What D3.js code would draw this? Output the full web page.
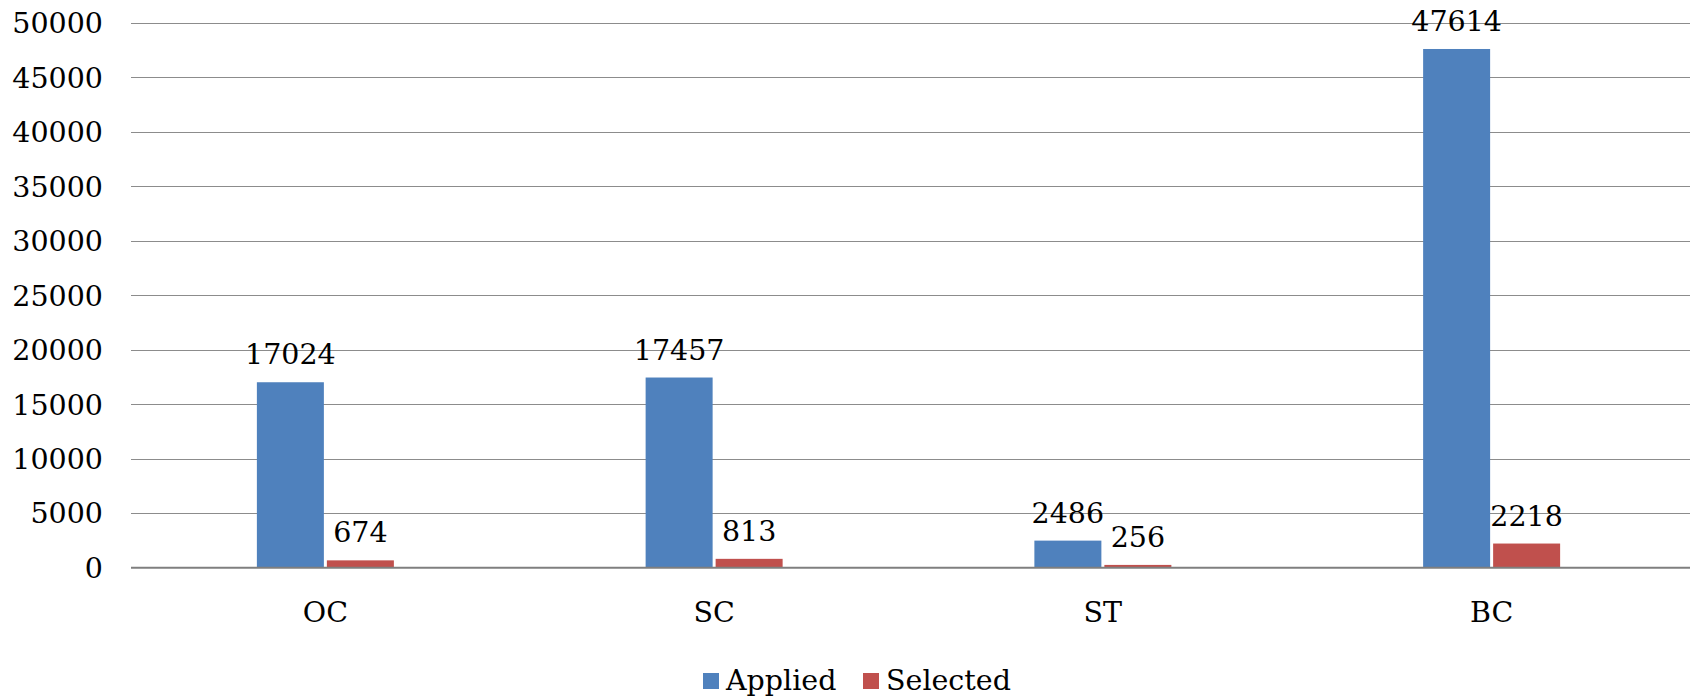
<!DOCTYPE html>
<html>
<head>
<meta charset="utf-8">
<script src="https://cdn.jsdelivr.net/npm/d3@7"></script>
<style>
  html, body { margin: 0; padding: 0; background: #fff; }
  svg { display: block; }
  text { font-family: "DejaVu Serif", serif; fill: #000; }
</style>
</head>
<body>
<script>
const categories = ["OC", "SC", "ST", "BC"];
const seriesNames = ["Applied", "Selected"];
const applied = [17024, 17457, 2486, 47614];
const selected = [674, 813, 256, 2218];
const yTicks = [0, 5000, 10000, 15000, 20000, 25000, 30000, 35000, 40000, 45000, 50000];
const colors = ["#4F81BD", "#C0504D"];

(function () {
const W = 1690, H = 700;
const mLeft = 131, mRight = 1690, mTop = 23, mBottom = 567.7;
const fs = 28.5;

const svg = d3.select("body").append("svg").attr("width", W).attr("height", H);

const x = d3.scaleBand().domain(categories).range([mLeft, mRight - 4]).paddingInner(0).paddingOuter(0);
const y = d3.scaleLinear().domain([0, 50000]).range([mBottom, mTop]);

// gridlines
svg.append("g").selectAll("line").data(yTicks.filter(d => d !== 0)).join("line")
  .attr("x1", mLeft).attr("x2", mRight)
  .attr("y1", d => Math.round(y(d)) + 0.5).attr("y2", d => Math.round(y(d)) + 0.5)
  .attr("stroke", "#8c8c8c").attr("stroke-width", 1);

// y tick labels
svg.append("g").selectAll("text").data(yTicks).join("text")
  .attr("x", 103).attr("y", d => y(d))
  .attr("text-anchor", "end").attr("dy", "0.36em")
  .attr("font-size", fs)
  .text(d => d);

const barW = 67, gap = 3;
const data = categories.map((c, i) => ({ c, vals: [applied[i], selected[i]] }));

const groups = svg.append("g").selectAll("g").data(data).join("g");
groups.each(function (d) {
  const g = d3.select(this);
  const cx = x(d.c) + x.bandwidth() / 2;
  d.vals.forEach((v, si) => {
    const bx = si === 0 ? cx - gap / 2 - barW : cx + gap / 2;
    g.append("rect")
      .attr("x", bx).attr("width", barW)
      .attr("y", y(v)).attr("height", y(0) - y(v))
      .attr("fill", colors[si]);
    g.append("text")
      .attr("x", bx + barW / 2).attr("y", y(v) - 18)
      .attr("text-anchor", "middle").attr("font-size", fs)
      .text(v);
  });
});

// zero axis
svg.append("line").attr("x1", mLeft).attr("x2", mRight)
  .attr("y1", y(0)).attr("y2", y(0))
  .attr("stroke", "#7f7f7f").attr("stroke-width", 2);

// category labels
svg.append("g").selectAll("text").data(categories).join("text")
  .attr("x", d => x(d) + x.bandwidth() / 2).attr("y", 622)
  .attr("text-anchor", "middle").attr("font-size", fs)
  .text(d => d);

// legend
const legendX = [703, 863];
const leg = svg.append("g").selectAll("g").data(seriesNames).join("g");
leg.append("rect")
  .attr("x", (d, i) => legendX[i]).attr("y", 673)
  .attr("width", 16).attr("height", 16)
  .attr("fill", (d, i) => colors[i]);
leg.append("text")
  .attr("x", (d, i) => legendX[i] + 23).attr("y", 690)
  .attr("font-size", fs)
  .text(d => d);
})();
</script>
</body>
</html>
